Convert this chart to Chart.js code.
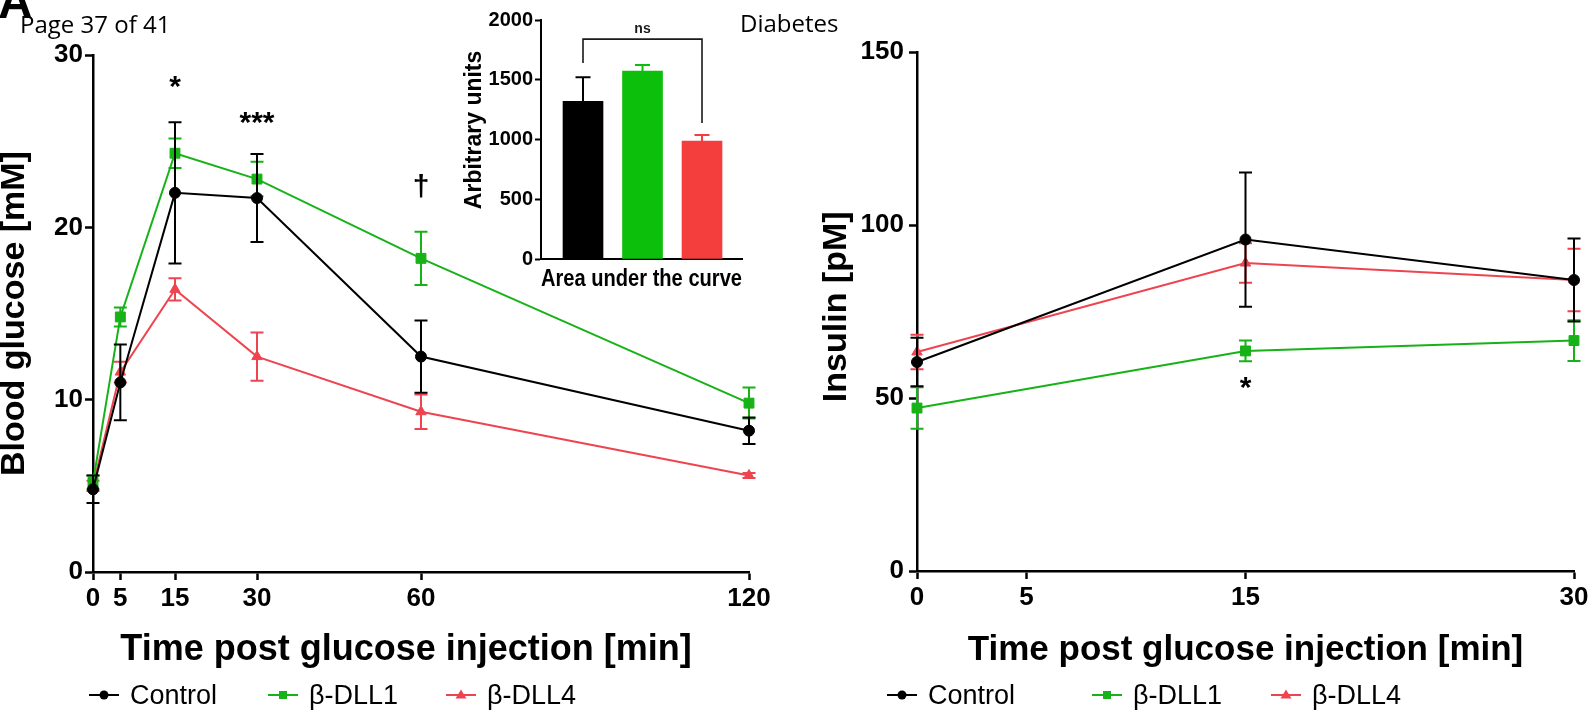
<!DOCTYPE html>
<html>
<head>
<meta charset="utf-8">
<script src="https://cdn.jsdelivr.net/npm/chart.js@4.4.0/dist/chart.umd.min.js"></script>
<style>
  html, body { margin: 0; padding: 0; background: #fff; width: 1588px; height: 714px; overflow: hidden; position: relative; }
  canvas { position: absolute; }
  #glucoseChart { left: 0; top: 0; z-index: 1; }
  #aucChart { left: 440px; top: 0; z-index: 2; }
  #insulinChart { left: 800px; top: 0; z-index: 1; }
  .hdr { position: absolute; white-space: nowrap; line-height: 1; color: #000; z-index: 3; }
  #panelLetter { left: -2px; top: -26px; font: bold 48px 'Liberation Sans', Arial, sans-serif; }
  #pageNo { left: 20px; top: 7px; font: 24px 'Open Sans', sans-serif; }
  #journal { left: 740px; top: 6px; font: 24px 'Open Sans', sans-serif; }
  .legend { position: absolute; top: 680px; height: 30px; display: flex; align-items: center; z-index: 3;
            font: 27px 'Liberation Sans', Arial, sans-serif; color: #000; white-space: nowrap; }
  .legend canvas { position: static; margin-right: 11px; }
</style>
</head>
<body>
<div class="hdr" id="panelLetter">A</div>
<div class="hdr" id="pageNo">Page 37 of 41</div>
<div class="hdr" id="journal">Diabetes</div>

<canvas id="glucoseChart" width="800" height="714"></canvas>
<canvas id="aucChart" width="340" height="310"></canvas>
<canvas id="insulinChart" width="820" height="714"></canvas>

<div class="legend" style="left:89px"><canvas width="30" height="20" data-series="0"></canvas>Control</div>
<div class="legend" style="left:268px"><canvas width="30" height="20" data-series="1"></canvas>β-DLL1</div>
<div class="legend" style="left:446px"><canvas width="30" height="20" data-series="2"></canvas>β-DLL4</div>
<div class="legend" style="left:887px"><canvas width="30" height="20" data-series="0"></canvas>Control</div>
<div class="legend" style="left:1092px"><canvas width="30" height="20" data-series="1"></canvas>β-DLL1</div>
<div class="legend" style="left:1271px"><canvas width="30" height="20" data-series="2"></canvas>β-DLL4</div>

<script>
// ---- Blood glucose during the glucose tolerance test (mean ± SEM) ----
const glucoseTimes = [0, 5, 15, 30, 60, 120];
const glucoseControl = [4.8, 11.0, 22.0, 21.7, 12.5, 8.2];
const glucoseControlSem = [0.8, 2.2, 4.1, 2.55, 2.1, 0.77];
const glucoseDll1 = [5.2, 14.8, 24.3, 22.8, 18.2, 9.8];
const glucoseDll1Sem = [0.4, 0.55, 0.85, 1.0, 1.55, 0.9];
const glucoseDll4 = [5.0, 11.6, 16.4, 12.5, 9.3, 5.6];
const glucoseDll4Sem = [0.3, 0.6, 0.65, 1.4, 1.0, 0.15];
const glucoseTicksY = [0, 10, 20, 30];

// ---- Plasma insulin (mean ± SEM) ----
const insulinTimes = [0, 15, 30];
const insulinTicksX = [0, 5, 15, 30];
const insulinControl = [60.4, 95.8, 84.1];
const insulinControlSem = [7.0, 19.4, 12.0];
const insulinDll1 = [47.1, 63.6, 66.6];
const insulinDll1Sem = [6.0, 3.0, 5.9];
const insulinDll4 = [63.3, 89.0, 84.1];
const insulinDll4Sem = [5.0, 5.7, 9.0];
const insulinTicksY = [0, 50, 100, 150];

// ---- Area under the glucose curve ----
const aucGroups = ['Control', 'β-DLL1', 'β-DLL4'];
const aucMeans = [1320, 1573, 987];
const aucSem = [201, 50, 51];
const aucTicksY = [0, 500, 1000, 1500, 2000];

// ---- Significance marks (time point, level on the value axis) ----
const glucoseSignifText = ['*', '***', '†'];
const glucoseSignifTime = [15, 30, 60];
const glucoseSignifLevel = [28.1, 26.0, 22.3];
const insulinSignifText = ['*'];
const insulinSignifTime = [15];
const insulinSignifLevel = [52.6];
const aucBracketGroups = [0, 2];
const aucBracketTop = 1840;
const aucBracketLegEnds = [1640, 1138];
const aucBracketText = 'ns';

// ---- Styling ----
const FONT = "'Liberation Sans', Arial, sans-serif";
const LINE_COLORS = ['#000000', '#17b217', '#ee4450'];
const BAR_COLORS = ['#000000', '#0bbf0b', '#f43d3d'];
const POINT_STYLES = ['circle', 'rect', 'triangle'];
const POINT_RADII = [5.5, 7, 6];

Chart.defaults.font.family = FONT;
Chart.defaults.color = '#000';

// Error bars drawn just beneath each dataset, through the chart's own scales
const errorBarPlugin = {
  id: 'errorBars',
  beforeDatasetDraw(chart, args) {
    const ds = chart.data.datasets[args.index];
    if (!ds.sem) return;
    const ctx = chart.ctx;
    const xs = chart.scales.x, ys = chart.scales.y;
    const cap = ds.capWidth || 12;
    ctx.save();
    ctx.lineWidth = ds.errorLineWidth || 2;
    ds.data.forEach((p, i) => {
      const color = Array.isArray(ds.errorColor) ? ds.errorColor[i] : ds.errorColor;
      const s = ds.sem[i];
      const px = xs.getPixelForValue(p.x);
      const hi = ys.getPixelForValue(p.y + s);
      const lo = ys.getPixelForValue(ds.upperOnly ? p.y : p.y - s);
      ctx.strokeStyle = color;
      ctx.beginPath();
      ctx.moveTo(px, hi); ctx.lineTo(px, lo);
      ctx.moveTo(px - cap / 2, hi); ctx.lineTo(px + cap / 2, hi);
      if (!ds.upperOnly) { ctx.moveTo(px - cap / 2, lo); ctx.lineTo(px + cap / 2, lo); }
      ctx.stroke();
    });
    ctx.restore();
  }
};

// Significance symbols placed at (time, level) in data space
function signifPlugin(texts, times, levels, font) {
  return {
    id: 'signif',
    afterDatasetsDraw(chart) {
      const ctx = chart.ctx;
      ctx.save();
      ctx.fillStyle = '#000';
      ctx.font = font;
      ctx.textAlign = 'center';
      ctx.textBaseline = 'middle';
      texts.forEach((t, i) => {
        ctx.fillText(t, chart.scales.x.getPixelForValue(times[i]), chart.scales.y.getPixelForValue(levels[i]));
      });
      ctx.restore();
    }
  };
}

// Comparison bracket above the bars
const bracketPlugin = {
  id: 'bracket',
  afterDatasetsDraw(chart) {
    const ctx = chart.ctx;
    const xs = chart.scales.x, ys = chart.scales.y;
    const pts = chart.data.datasets[0].data;
    const x1 = xs.getPixelForValue(pts[aucBracketGroups[0]].x);
    const x2 = xs.getPixelForValue(pts[aucBracketGroups[1]].x);
    const top = ys.getPixelForValue(aucBracketTop);
    ctx.save();
    ctx.strokeStyle = '#1a1a1a';
    ctx.lineWidth = 1.6;
    ctx.beginPath();
    ctx.moveTo(x1, ys.getPixelForValue(aucBracketLegEnds[0]));
    ctx.lineTo(x1, top);
    ctx.lineTo(x2, top);
    ctx.lineTo(x2, ys.getPixelForValue(aucBracketLegEnds[1]));
    ctx.stroke();
    ctx.fillStyle = '#1a1a1a';
    ctx.font = 'bold 14px ' + FONT;
    ctx.textAlign = 'center';
    ctx.textBaseline = 'bottom';
    ctx.fillText(aucBracketText, (x1 + x2) / 2, top - 3);
    ctx.restore();
  }
};

function lineSeries(idx, label, xs, ys, sem) {
  return {
    label,
    data: xs.map((x, i) => ({ x, y: ys[i] })),
    sem,
    errorColor: LINE_COLORS[idx],
    capWidth: 13,
    borderColor: LINE_COLORS[idx],
    backgroundColor: LINE_COLORS[idx],
    borderWidth: 2,
    pointStyle: POINT_STYLES[idx],
    pointRadius: POINT_RADII[idx],
    pointHoverRadius: POINT_RADII[idx],
    pointBorderWidth: 1,
    tension: 0,
    clip: false
  };
}

function axisLine(extra) {
  return Object.assign({
    border: { display: true, color: '#000', width: 2.5 },
    grid: { display: true, drawOnChartArea: false, drawTicks: true, tickLength: 8, tickWidth: 2.5, tickColor: '#000' }
  }, extra);
}

function fixedTicks(values) {
  return axis => { axis.ticks = values.map(v => ({ value: v })); };
}

const plainNumber = v => String(v);

const common = {
  responsive: false,
  animation: false,
  events: [],
  plugins: { legend: { display: false }, tooltip: { enabled: false } }
};

// ---- Blood glucose panel ----
new Chart(document.getElementById('glucoseChart'), {
  type: 'line',
  data: {
    datasets: [
      lineSeries(0, 'Control', glucoseTimes, glucoseControl, glucoseControlSem),
      lineSeries(1, 'β-DLL1', glucoseTimes, glucoseDll1, glucoseDll1Sem),
      lineSeries(2, 'β-DLL4', glucoseTimes, glucoseDll4, glucoseDll4Sem)
    ]
  },
  options: Object.assign({}, common, {
    layout: { padding: { top: 55, right: 51, bottom: 42, left: 0 } },
    scales: {
      x: axisLine({
        type: 'linear', min: 0, max: 120,
        afterBuildTicks: fixedTicks(glucoseTimes),
        afterFit: a => { a.height = 100; },
        ticks: { font: { size: 26, weight: 'bold' }, color: '#000', padding: 3, maxRotation: 0, autoSkip: false, callback: plainNumber },
        title: { display: true, text: 'Time post glucose injection [min]\u00a0\u00a0\u00a0', color: '#000',
                 font: { size: 36, weight: 'bold', lineHeight: 1.2 }, padding: 0 }
      }),
      y: axisLine({
        type: 'linear', min: 0, max: 30,
        afterBuildTicks: fixedTicks(glucoseTicksY),
        afterFit: a => { a.width = 93; },
        ticks: { font: { size: 26, weight: 'bold' }, color: '#000', padding: 2, callback: plainNumber },
        title: { display: true, text: 'Blood glucose [mM]', color: '#000',
                 font: { size: 34, weight: 'bold', lineHeight: 1 }, padding: { top: -2, bottom: 0 } }
      })
    }
  }),
  plugins: [errorBarPlugin, signifPlugin(glucoseSignifText, glucoseSignifTime, glucoseSignifLevel, 'bold 30px ' + FONT)]
});

// ---- Area under the curve inset ----
new Chart(document.getElementById('aucChart'), {
  type: 'bar',
  data: {
    datasets: [{
      label: 'AUC',
      data: aucGroups.map((g, i) => ({ x: i + 1, y: aucMeans[i] })),
      sem: aucSem,
      upperOnly: true,
      capWidth: 15,
      errorColor: BAR_COLORS,
      backgroundColor: BAR_COLORS,
      borderWidth: 0,
      barThickness: 40
    }]
  },
  options: Object.assign({}, common, {
    layout: { padding: { top: 20, right: 38, bottom: 17, left: 0 } },
    scales: {
      x: {
        type: 'linear', min: 0.294, max: 3.672, offset: false, bounds: 'data',
        afterFit: a => { a.height = 34; },
        border: { display: true, color: '#000', width: 2 },
        grid: { display: false, offset: false },
        ticks: { display: false },
        title: { display: true, text: 'Area under the curve', color: '#000',
                 font: { size: 23, weight: 'bold', lineHeight: 1.2 }, padding: 0 }
      },
      y: {
        type: 'linear', min: 0, max: 2000,
        afterBuildTicks: fixedTicks(aucTicksY),
        afterFit: a => { a.width = 101; },
        border: { display: true, color: '#000', width: 2 },
        grid: { display: true, drawOnChartArea: false, drawTicks: true, tickLength: 6, tickWidth: 2, tickColor: '#000' },
        ticks: { font: { size: 20, weight: 'bold' }, color: '#000', padding: 2, callback: plainNumber },
        title: { display: true, text: '\u00a0\u00a0\u00a0Arbitrary units', color: '#000',
                 font: { size: 23, weight: 'bold', lineHeight: 1 }, padding: { top: 23.5, bottom: 0 } }
      }
    }
  }),
  plugins: [errorBarPlugin, bracketPlugin]
});

// ---- Insulin panel ----
new Chart(document.getElementById('insulinChart'), {
  type: 'line',
  data: {
    datasets: [
      lineSeries(0, 'Control', insulinTimes, insulinControl, insulinControlSem),
      lineSeries(1, 'β-DLL1', insulinTimes, insulinDll1, insulinDll1Sem),
      lineSeries(2, 'β-DLL4', insulinTimes, insulinDll4, insulinDll4Sem)
    ]
  },
  options: Object.assign({}, common, {
    layout: { padding: { top: 52, right: 46, bottom: 43, left: 0 } },
    scales: {
      x: axisLine({
        type: 'linear', min: 0, max: 30,
        afterBuildTicks: fixedTicks(insulinTicksX),
        afterFit: a => { a.height = 100; },
        ticks: { font: { size: 26, weight: 'bold' }, color: '#000', padding: 3, maxRotation: 0, autoSkip: false, callback: plainNumber },
        title: { display: true, text: 'Time post glucose injection [min]', color: '#000',
                 font: { size: 35, weight: 'bold', lineHeight: 1.2 }, padding: 0 }
      }),
      y: axisLine({
        type: 'linear', min: 0, max: 150,
        afterBuildTicks: fixedTicks(insulinTicksY),
        afterFit: a => { a.width = 117; },
        ticks: { font: { size: 26, weight: 'bold' }, color: '#000', padding: 5, callback: plainNumber },
        title: { display: true, text: '\u00a0Insulin [pM]', color: '#000',
                 font: { size: 34, weight: 'bold', lineHeight: 1 }, padding: { top: 20, bottom: 0 } }
      })
    }
  }),
  plugins: [errorBarPlugin, signifPlugin(insulinSignifText, insulinSignifTime, insulinSignifLevel, 'bold 30px ' + FONT)]
});

// ---- Legend icons: short line with the series marker ----
document.querySelectorAll('.legend canvas').forEach(cv => {
  const i = +cv.dataset.series;
  const c = cv.getContext('2d');
  c.strokeStyle = LINE_COLORS[i];
  c.fillStyle = LINE_COLORS[i];
  c.lineWidth = 2;
  c.beginPath(); c.moveTo(0, 10); c.lineTo(30, 10); c.stroke();
  c.beginPath();
  if (POINT_STYLES[i] === 'circle') c.arc(15, 10, 4.5, 0, Math.PI * 2);
  else if (POINT_STYLES[i] === 'rect') c.rect(11, 6, 8, 8);
  else { c.moveTo(15, 4.5); c.lineTo(20.5, 13.5); c.lineTo(9.5, 13.5); c.closePath(); }
  c.fill();
});
</script>
</body>
</html>
